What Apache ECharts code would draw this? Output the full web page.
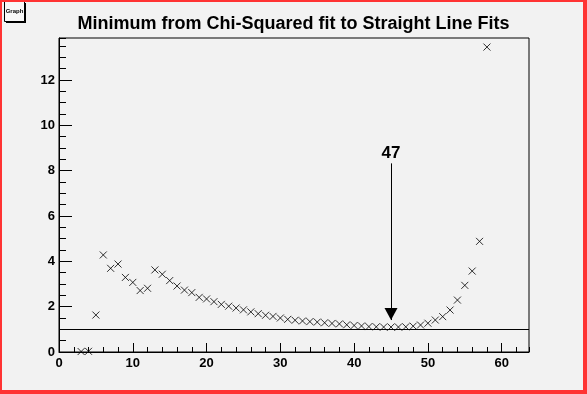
<!DOCTYPE html>
<html>
<head>
<meta charset="utf-8">
<script src="https://cdn.jsdelivr.net/npm/echarts@6/dist/echarts.min.js"></script>
<style>
html,body{margin:0;padding:0;background:#f2f2f2;}
#c{width:587px;height:394px;}
</style>
</head>
<body>
<div id="c"></div>
<script>
// ---- data ----
const titleText = "Minimum from Chi-Squared fit to Straight Line Fits";
const xValues = [3,4,5,6,7,8,9,10,11,12,13,14,15,16,17,18,19,20,21,22,23,24,25,26,27,28,29,30,
  31,32,33,34,35,36,37,38,39,40,41,42,43,44,45,46,47,48,49,50,51,52,53,54,55,56,57,58];
const yValues = [0.02,0.03,1.63,4.28,3.69,3.88,3.29,3.07,2.71,2.81,3.62,3.43,3.15,2.91,2.73,2.62,2.41,2.34,2.22,2.10,
  2.02,1.94,1.86,1.77,1.69,1.62,1.57,1.50,1.44,1.40,1.37,1.34,1.32,1.29,1.26,1.24,1.20,1.17,1.15,1.12,
  1.11,1.10,1.10,1.10,1.11,1.14,1.19,1.27,1.41,1.56,1.85,2.29,2.94,3.57,4.88,13.45];
const refLineY = 1;
const arrowX = 45;
const arrowTopY = 8.32;
const arrowTipY = 1.41;
const arrowLabel = "47";
const xRange = [0, 63.7];
const yRange = [0, 13.85];

const chart = echarts.init(document.getElementById('c'), null, {renderer:'canvas'});
const font = 'Liberation Sans, Arial, Helvetica, sans-serif';
const pts = xValues.map((x,i)=>[x, yValues[i]]);

function xAx(interval, len, showLabel){
  return {type:'value', min:xRange[0], max:xRange[1], interval:interval, position:'bottom',
    axisLine:{show:showLabel, onZero:false, lineStyle:{color:'#000', width:1}},
    axisTick:{show:true, inside:true, length:len, lineStyle:{color:'#000', width:1}},
    axisLabel:{show:showLabel, color:'#000', fontFamily:font, fontWeight:'bold', fontSize:13, margin:5, showMaxLabel:false},
    splitLine:{show:false}};
}
function yAx(interval, len, showLabel){
  return {type:'value', min:yRange[0], max:yRange[1], interval:interval, position:'left',
    axisLine:{show:showLabel, onZero:false, lineStyle:{color:'#000', width:1}},
    axisTick:{show:true, inside:true, length:len, lineStyle:{color:'#000', width:1}},
    axisLabel:{show:showLabel, color:'#000', fontFamily:font, fontWeight:'bold', fontSize:13, margin:4, showMaxLabel:false},
    splitLine:{show:false}};
}

chart.setOption({
  animation:false,
  backgroundColor:'#f2f2f2',
  title:{text:titleText, left:'center', top:15, padding:0,
    textStyle:{fontFamily:font, fontWeight:'bold', fontSize:18, color:'#000'}},
  grid:{left:59, right:58, top:38, bottom:42, show:true, borderColor:'#000', borderWidth:1, backgroundColor:'#f2f2f2'},
  xAxis:[xAx(10,9,true), xAx(2,5,false)],
  yAxis:[yAx(2,13,true), yAx(0.5,7,false)],
  series:[{
    type:'scatter', xAxisIndex:0, yAxisIndex:0,
    data:pts,
    symbol:'path://M0,0L10,10M10,0L0,10',
    symbolSize:7,
    itemStyle:{color:'rgba(0,0,0,0)', borderColor:'#000', borderWidth:1},
    emphasis:{disabled:true},
    markLine:{
      silent:true, animation:false,
      lineStyle:{color:'#000', width:1, type:'solid'},
      label:{show:false},
      emphasis:{disabled:true},
      data:[
        [{coord:[xRange[0], refLineY], symbol:'none'}, {coord:[xRange[1], refLineY], symbol:'none'}],
        [{coord:[arrowX, arrowTopY], symbol:'none',
          label:{show:true, position:'start', formatter:arrowLabel, distance:2, color:'#000', fontFamily:font, fontWeight:'bold', fontSize:17}},
         {coord:[arrowX, arrowTipY], symbol:'triangle', symbolSize:[13,12], symbolOffset:[0,6]}]
      ]
    }
  }],
  graphic:[
    {type:'rect', shape:{x:6, y:3, width:20, height:20}, style:{fill:'#000'}},
    {type:'rect', shape:{x:4.5, y:1.5, width:20, height:20}, style:{fill:'#f8f8f8', stroke:'#000', lineWidth:1}},
    {type:'text', x:14.5, y:11.5, style:{text:'Graph', fontFamily:font, fontWeight:'bold', fontSize:6, fill:'#000', align:'center', verticalAlign:'middle'}},
    {type:'rect', shape:{x:0, y:0, width:2, height:394}, style:{fill:'#ff3333'}},
    {type:'rect', shape:{x:0, y:0, width:587, height:2}, style:{fill:'#ff3333'}},
    {type:'rect', shape:{x:583, y:0, width:4, height:394}, style:{fill:'#ff3333'}},
    {type:'rect', shape:{x:0, y:390, width:587, height:4}, style:{fill:'#ff3333'}}
  ]
});
</script>
</body>
</html>
